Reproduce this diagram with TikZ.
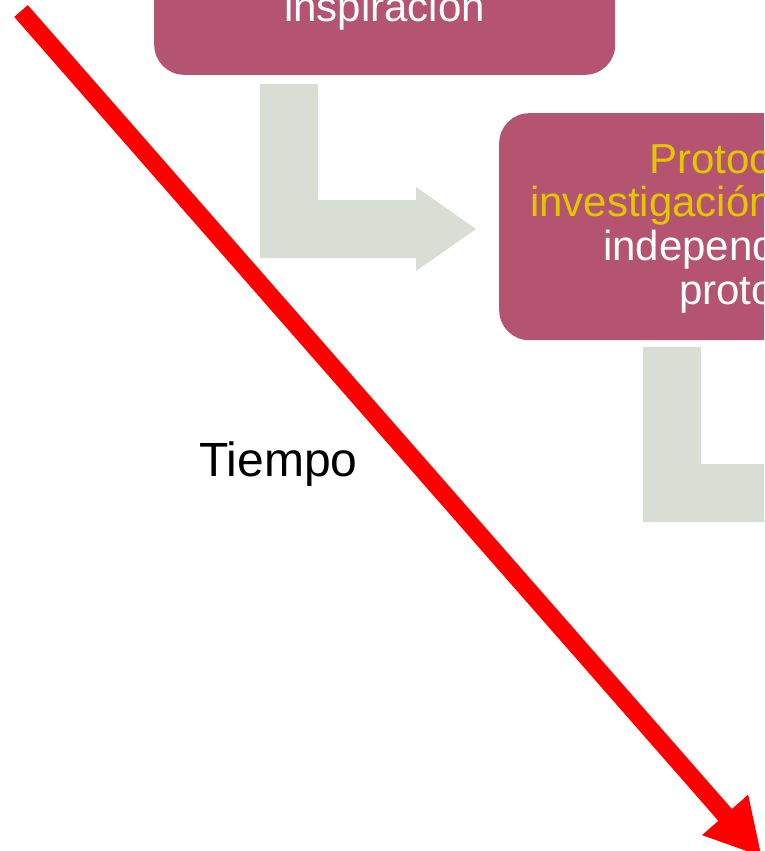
\documentclass[tikz,border=0pt]{standalone}
\usepackage{fontspec}
\setmainfont{Liberation Sans}
\usetikzlibrary{arrows.meta}
\definecolor{boxpink}{HTML}{B55470}
\definecolor{flowgray}{HTML}{D9DED4}
\definecolor{txtyellow}{HTML}{E2C600}
\tikzset{
  boxshape/.style={fill=boxpink, draw=none, rounded corners=30pt, inner sep=0pt, minimum width=461pt},
  boxtext/.style={anchor=base west, inner sep=0pt, font=\fontsize{42}{50}\selectfont},
  flowarrow/.style={fill=flowgray, draw=none},
  timearrow/.style={draw=red, line width=18pt, -{Triangle[length=56pt,width=57pt,fill=red]}}
}
\begin{document}
\begin{tikzpicture}[x=1pt,y=-1pt]
\useasboundingbox (0,0) rectangle (764,851);
\clip (0,0) rectangle (764,851);
% box 1
\node[boxshape, minimum height=320pt, anchor=south west] (b1) at (154,75) {};
\node[boxtext, anchor=base, white] (t1) at (384.5,22) {inspiración};
% flow arrow 1
\fill[flowarrow] (260,84) -- (318,84) -- (318,200) -- (416,200) -- (416,187) -- (476,229)
  -- (416,271) -- (416,258) -- (260,258) -- cycle;
% box 2
\node[boxshape, minimum height=227pt, anchor=north west] (b2) at (499,113) {};
\node[boxtext, txtyellow] (l1) at (649,173) {Protocolo de};
\node[boxtext, txtyellow] (l2) at (530,216) {investigación clínica};
\node[boxtext, white] (l3) at (603,260) {independiente del};
\node[boxtext, white] (l4) at (679,304) {protocolo};
% flow arrow 2
\fill[flowarrow] (643,347) -- (701,347) -- (701,464) -- (799,464) -- (799,451) -- (859,493)
  -- (799,535) -- (799,522) -- (643,522) -- cycle;
% time arrow
\coordinate (rs) at (21,11);
\coordinate (re) at (762,857);
\draw[timearrow] (rs) -- (re);
\node[anchor=base west, inner sep=0pt, font=\fontsize{48}{57}\selectfont] (tiempo) at (199,476) {Tiempo};
\end{tikzpicture}
\end{document}
